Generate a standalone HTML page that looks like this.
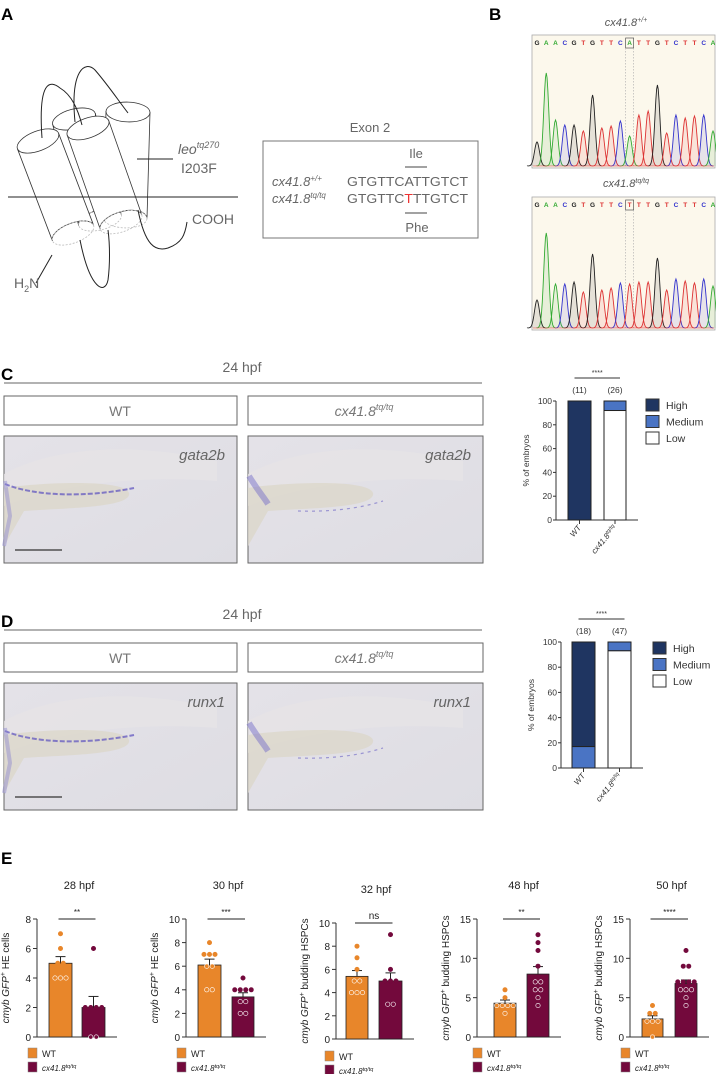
<!DOCTYPE html>
<html><head><meta charset="utf-8">
<style>
html,body{margin:0;padding:0;background:#fff;}
svg{display:block;font-family:"Liberation Sans",sans-serif;}
</style></head>
<body>
<svg id="s" width="716" height="1074" viewBox="0 0 716 1074" xmlns="http://www.w3.org/2000/svg">
<defs>
<linearGradient id="img" x1="0" y1="0" x2="1" y2="1">
<stop offset="0" stop-color="#e4e2e8"/><stop offset="1" stop-color="#dedde3"/>
</linearGradient>
</defs>
<g font-weight="bold" font-size="17" fill="#000">
<text x="1" y="20">A</text><text x="489" y="20">B</text>
<text x="1" y="380">C</text><text x="1" y="627">D</text><text x="1" y="864">E</text>
</g>
<g id="cyl" fill="none" stroke="#333" stroke-width="0.8"></g>
<g fill="none" stroke="#222" stroke-width="1">
<line x1="8" y1="197" x2="238" y2="197"/>
<line x1="137" y1="159" x2="173" y2="159"/>
<path d="M42 138 C38 80,50 80,60 88 C72 95,78 110,82 125"/>
<path d="M75 122 C70 70,85 60,95 70 C108 85,118 100,128 113"/>
<path d="M52 255 L36 283" />
<path d="M80 240 C90 290,105 295,108 280 C110 265,110 245,108 230"/>
<path d="M138 210 C145 245,155 252,168 248 C182 243,185 235,187 222"/>
</g>
<g fill="#666" font-size="14">
<text x="178" y="154" font-style="italic">leo<tspan font-size="9" dy="-6">tq270</tspan></text>
<text x="181" y="173">I203F</text>
<text x="192" y="224">COOH</text>
<text x="14" y="288">H<tspan font-size="9" dy="4">2</tspan><tspan dy="-4">N</tspan></text>
<text x="370" y="132" text-anchor="middle" font-size="13">Exon 2</text>
</g>
<rect x="263" y="141" width="215" height="97" fill="none" stroke="#777" stroke-width="1"/>
<g fill="#666" font-size="13">
<text x="416" y="158" text-anchor="middle">Ile</text>
<line x1="405" y1="167" x2="427" y2="167" stroke="#444"/>
<text x="272" y="186" font-style="italic">cx41.8<tspan font-size="8" dy="-5">+/+</tspan></text>
<text x="272" y="203" font-style="italic">cx41.8<tspan font-size="8" dy="-5">tq/tq</tspan></text>
<text x="347" y="186" textLength="121" lengthAdjust="spacingAndGlyphs">GTGTTCATTGTCT</text>
<text x="347" y="203" textLength="121" lengthAdjust="spacingAndGlyphs">GTGTTC<tspan fill="#e33">T</tspan>TTGTCT</text>
<line x1="405" y1="213" x2="427" y2="213" stroke="#444"/>
<text x="417" y="232" text-anchor="middle">Phe</text>
</g>
<g fill="#555" font-size="11" font-style="italic" text-anchor="middle">
<text x="626" y="26">cx41.8<tspan font-size="7" dy="-4">+/+</tspan></text>
<text x="626" y="187">cx41.8<tspan font-size="7" dy="-4">tq/tq</tspan></text>
</g>
<g id="chrom"></g>
<g id="cd"></g>
<g id="e"></g>
</svg>
<script>
function add(parent,html){document.getElementById(parent).insertAdjacentHTML('beforeend',html);}
function cyl(tx,ty,bx,by,r){
 const dx=bx-tx,dy=by-ty,L=Math.hypot(dx,dy),nx=-dy/L*r,ny=dx/L*r;
 const ang=Math.atan2(dy,dx)*180/Math.PI-90;
 let s=`<path fill="#fff" d="M${tx+nx} ${ty+ny} L${bx+nx} ${by+ny} A${r} ${r*0.45} ${ang} 0 1 ${bx-nx} ${by-ny} L${tx-nx} ${ty-ny} Z"/>`;
 s+=`<ellipse cx="${bx}" cy="${by}" rx="${r}" ry="${r*0.45}" transform="rotate(${ang} ${bx} ${by})" stroke="#bbb" stroke-dasharray="2 1.5" fill="none"/>`;
 s+=`<ellipse cx="${tx}" cy="${ty}" rx="${r}" ry="${r*0.45}" transform="rotate(${ang} ${tx} ${ty})" fill="#fff"/>`;
 return s;
}
add('cyl',cyl(74,119,100,220,22)+cyl(128,112,125,218,22)+cyl(38,141,73,233,22)+cyl(88,128,121,222,22));
const col={G:'#222',A:'#3a3',T:'#d33',C:'#33c'};
function chrom(y0,seq,h,mark){
 let s=`<rect x="532" y="${y0}" width="183" height="133" fill="#fcf8ec" stroke="#aaa" stroke-width="0.8"/>`;
 const n=seq.length, x0=537, dxs=(713-537)/(n-1), base=y0+131;
 for(let i=0;i<n;i++){
  s+=`<text x="${x0+i*dxs}" y="${y0+10}" font-size="6.5" font-weight="bold" fill="${col[seq[i]]}" text-anchor="middle">${seq[i]}</text>`;
 }
 s+=`<rect x="${x0+mark*dxs-4}" y="${y0+3}" width="8" height="10" fill="none" stroke="#555" stroke-width="0.7"/>`;
 s+=`<line x1="${x0+mark*dxs-4}" y1="${y0+13}" x2="${x0+mark*dxs-4}" y2="${base}" stroke="#aaa" stroke-dasharray="1.5 1.5" stroke-width="0.6"/>`;
 s+=`<line x1="${x0+mark*dxs+4}" y1="${y0+13}" x2="${x0+mark*dxs+4}" y2="${base}" stroke="#aaa" stroke-dasharray="1.5 1.5" stroke-width="0.6"/>`;
 for(let i=0;i<n;i++){
  const cx=x0+i*dxs, pk=h[i], w=3.2;
  let d=`M${cx-3*w} ${base}`;
  for(let t=-3;t<=3.01;t+=0.25){d+=` L${cx+t*w} ${base-pk*Math.exp(-t*t/1.2)}`;}
  s+=`<path d="${d}" fill="${col[seq[i]]}" fill-opacity="0.1" stroke="${col[seq[i]]}" stroke-width="0.9"/>`;
 }
 s+=`<line x1="533" y1="${base}" x2="714" y2="${base}" stroke="#d33" stroke-width="0.6"/>`;
 return s;
}
add('chrom',chrom(35,'GAACGTGTTCATTGTCTTCA',[24,93,46,41,41,35,71,38,40,45,30,51,55,81,33,51,48,50,51,35],10));
add('chrom',chrom(197,'GAACGTGTTCTTTGTCTTCA',[28,95,44,44,46,36,74,38,40,45,44,46,46,70,38,49,47,45,49,42],10));
function cd(y,label){
 let s=`<text x="242" y="${y+4}" text-anchor="middle" font-size="14" fill="#666">24 hpf</text>`;
 s+=`<line x1="4" y1="${y+15}" x2="482" y2="${y+15}" stroke="#666" stroke-width="1"/>`;
 s+=`<rect x="4" y="${y+28}" width="233" height="29" fill="#fff" stroke="#666"/>`;
 s+=`<rect x="248" y="${y+28}" width="235" height="29" fill="#fff" stroke="#666"/>`;
 s+=`<text x="120" y="${y+48}" text-anchor="middle" font-size="14" fill="#777">WT</text>`;
 s+=`<text x="364" y="${y+48}" text-anchor="middle" font-size="14" fill="#777" font-style="italic">cx41.8<tspan font-size="9" dy="-6">tq/tq</tspan></text>`;
 const iy=y+68, ih=127;
 [[4,233],[248,235]].forEach(([x,w],k)=>{
  s+=`<rect x="${x}" y="${iy}" width="${w}" height="${ih}" fill="url(#img)" stroke="#666"/>`;
  s+=`<path d="M${x} ${iy+38} C${x+60} ${iy+5},${x+150} ${iy+10},${x+w-20} ${iy+25} L${x+w-20} ${iy+45} C${x+150} ${iy+40},${x+60} ${iy+45},${x} ${iy+70} Z" fill="#e6e4e6" opacity="0.8"/>`;
  s+=`<path d="M${x} ${iy+52} C${x+30} ${iy+47},${x+120} ${iy+42},${x+125} ${iy+57} C${x+128} ${iy+72},${x+60} ${iy+72},${x+20} ${iy+75} L${x} ${iy+110} Z" fill="#dcd7cb" opacity="0.8"/>`;
  if(k==0) s+=`<path d="M${x+1} ${iy+48} C${x+30} ${iy+60},${x+80} ${iy+62},${x+130} ${iy+52}" stroke="#5a4fbf" stroke-width="2" fill="none" stroke-dasharray="5 2" opacity="0.7"/><path d="M${x+1} ${iy+45} L${x+6} ${iy+80} L${x} ${iy+110}" stroke="#8b86cf" stroke-width="4" fill="none" opacity="0.45"/>`;
  else s+=`<path d="M${x+1} ${iy+40} C${x+10} ${iy+55},${x+15} ${iy+60},${x+20} ${iy+68}" stroke="#6c63c8" stroke-width="6" fill="none" opacity="0.45"/><path d="M${x+50} ${iy+75} C${x+80} ${iy+76},${x+110} ${iy+73},${x+135} ${iy+65}" stroke="#6a62c4" stroke-width="1.2" fill="none" stroke-dasharray="3 4" opacity="0.6"/>`;
  s+=`<text x="${x+w-12}" y="${iy+24}" text-anchor="end" font-size="15" fill="#666" font-style="italic">${label}</text>`;
  if(k==0) s+=`<line x1="${x+11}" y1="${iy+114}" x2="${x+58}" y2="${iy+114}" stroke="#333" stroke-width="1.2"/>`;
 });
 return s;
}
add('cd',cd(368,'gata2b'));
add('cd',cd(615,'runx1'));
function stack(ax,y100,y0,b1,b2,n1,n2,wtMed,cxLow,lx,ly){
 const sc=(y0-y100)/100, Y=v=>y0-v*sc;
 let s=`<g font-size="8.5" fill="#333">`;
 s+=`<line x1="${ax}" y1="${y100}" x2="${ax}" y2="${y0}" stroke="#333"/>`;
 s+=`<line x1="${ax}" y1="${y0}" x2="${b2[1]+12}" y2="${y0}" stroke="#333"/>`;
 for(let v=0;v<=100;v+=20){s+=`<line x1="${ax-3}" y1="${Y(v)}" x2="${ax}" y2="${Y(v)}" stroke="#333"/><text x="${ax-4}" y="${Y(v)+3}" text-anchor="end">${v}</text>`;}
 s+=`<rect x="${b1[0]}" y="${Y(100)}" width="${b1[1]-b1[0]}" height="${(100-wtMed)*sc}" fill="#1f3561" stroke="#222"/>`;
 if(wtMed>0) s+=`<rect x="${b1[0]}" y="${Y(wtMed)}" width="${b1[1]-b1[0]}" height="${wtMed*sc}" fill="#4a74c4" stroke="#222"/>`;
 s+=`<rect x="${b2[0]}" y="${Y(100)}" width="${b2[1]-b2[0]}" height="${(100-cxLow)*sc}" fill="#4a74c4" stroke="#222"/>`;
 s+=`<rect x="${b2[0]}" y="${Y(cxLow)}" width="${b2[1]-b2[0]}" height="${cxLow*sc}" fill="#fff" stroke="#222"/>`;
 const m1=(b1[0]+b1[1])/2,m2=(b2[0]+b2[1])/2;
 s+=`<line x1="${m1}" y1="${y0}" x2="${m1}" y2="${y0+4}" stroke="#333"/><line x1="${m2}" y1="${y0}" x2="${m2}" y2="${y0+4}" stroke="#333"/>`;
 s+=`<text x="${m1}" y="${y100-8}" text-anchor="middle">(${n1})</text><text x="${m2}" y="${y100-8}" text-anchor="middle">(${n2})</text>`;
 s+=`<line x1="${m1-5}" y1="${y100-23}" x2="${m2+5}" y2="${y100-23}" stroke="#333"/>`;
 s+=`<text x="${(m1+m2)/2}" y="${y100-26}" text-anchor="middle" font-size="7">****</text>`;
 s+=`<text transform="translate(${ax-27} ${(y0+y100)/2}) rotate(-90)" text-anchor="middle" font-size="8.5">% of embryos</text>`;
 s+=`<text transform="translate(${m1+2} ${y0+8}) rotate(-50)" text-anchor="end" font-style="italic" font-size="8">WT</text>`;
 s+=`<text transform="translate(${m2+2} ${y0+8}) rotate(-50)" text-anchor="end" font-style="italic" font-size="8">cx41.8<tspan font-size="5.5" dy="-3">tq/tq</tspan></text>`;
 [['#1f3561','High'],['#4a74c4','Medium'],['#fff','Low']].forEach((c,i)=>{
  s+=`<rect x="${lx}" y="${ly+i*16.5}" width="13" height="12" fill="${c[0]}" stroke="#333"/><text x="${lx+20}" y="${ly+i*16.5+10}" font-size="10.5">${c[1]}</text>`;
 });
 return s+'</g>';
}
add('cd',stack(556,401,520,[568,591],[604,626],11,26,0,92,646,399));
add('cd',stack(561,642,768,[572,595],[608,631],18,47,17,93,653,642));
const OR='#e8862a',MA='#73093c';
function ech(c){
 const {ax,yT,yB,max,step,b1,b2,m1,e1,m2,e2,d1,d2,title,sig,lab,lx,ly}=c;
 const Y=v=>yB-(yB-yT)*v/max;
 let s=`<g font-size="10" fill="#222">`;
 s+=`<text x="${(b1[0]+b2[1])/2+2}" y="${yT-30}" text-anchor="middle" font-size="11">${title}</text>`;
 s+=`<line x1="${ax}" y1="${yT}" x2="${ax}" y2="${yB}" stroke="#333"/><line x1="${ax}" y1="${yB}" x2="${b2[1]+12}" y2="${yB}" stroke="#333"/>`;
 for(let v=0;v<=max;v+=step){s+=`<line x1="${ax-4}" y1="${Y(v)}" x2="${ax}" y2="${Y(v)}" stroke="#333"/><text x="${ax-6}" y="${Y(v)+4}" text-anchor="end">${v}</text>`;}
 [[b1,m1,e1,OR,d1],[b2,m2,e2,MA,d2]].forEach(([b,m,e,color,d])=>{
  const cx=(b[0]+b[1])/2;
  s+=`<line x1="${cx}" y1="${Y(m)}" x2="${cx}" y2="${Y(m+e)}" stroke="#222"/><line x1="${cx-5}" y1="${Y(m+e)}" x2="${cx+5}" y2="${Y(m+e)}" stroke="#222"/>`;
  s+=`<rect x="${b[0]}" y="${Y(m)}" width="${b[1]-b[0]}" height="${yB-Y(m)}" fill="${color}" stroke="#222" stroke-width="0.8"/>`;
  const cnt={};d.forEach(v=>cnt[v]=(cnt[v]||0)+1);
  Object.keys(cnt).forEach(k=>{const n=cnt[k];for(let i=0;i<n;i++){const x=cx+(i-(n-1)/2)*5.5;const v=+k;const inside=v<m;
   s+=`<circle cx="${x}" cy="${Y(v)}" r="2.2" fill="${color}" stroke="${inside?'#fff':color}" stroke-width="0.6"/>`;}});
 });
 s+=`<line x1="${(b1[0]+b1[1])/2-2}" y1="${yT}" x2="${(b2[0]+b2[1])/2+2}" y2="${yT}" stroke="#222"/>`;
 s+=`<text x="${(b1[0]+b2[1])/2}" y="${yT-4}" text-anchor="middle" font-size="${sig=='ns'?10:8}">${sig}</text>`;
 s+=`<text transform="translate(${ax-28} ${(yT+yB)/2}) rotate(-90)" text-anchor="middle" font-size="10"><tspan font-style="italic">cmyb GFP</tspan><tspan font-size="7" dy="-4">+</tspan><tspan dy="4"> ${lab}</tspan></text>`;
 s+=`<rect x="${lx}" y="${ly}" width="9" height="10" fill="${OR}" stroke="#888" stroke-width="0.5"/><text x="${lx+14}" y="${ly+9}" font-size="9">WT</text>`;
 s+=`<rect x="${lx}" y="${ly+14}" width="9" height="10" fill="${MA}" stroke="#888" stroke-width="0.5"/><text x="${lx+14}" y="${ly+23}" font-size="8" font-style="italic">cx41.8<tspan font-size="5.5" dy="-3">tq/tq</tspan></text>`;
 return s+'</g>';
}
const T=919,B=1037;
add('e',ech({ax:37,yT:T,yB:B,max:8,step:2,b1:[49,72],b2:[82,105],m1:5,e1:0.45,m2:2,e2:0.75,d1:[7,6,5,5,4,4,4],d2:[6,2,2,2,2,0,0],title:'28 hpf',sig:'**',lab:'HE cells',lx:28,ly:1048}));
add('e',ech({ax:186,yT:T,yB:B,max:10,step:2,b1:[198,221],b2:[232,254],m1:6.1,e1:0.5,m2:3.4,e2:0.35,d1:[8,7,7,7,6,6,4,4],d2:[5,4,4,4,4,3,3,2,2],title:'30 hpf',sig:'***',lab:'HE cells',lx:177,ly:1048}));
add('e',ech({ax:336,yT:923,yB:1039,max:10,step:2,b1:[346,368],b2:[379,402],m1:5.4,e1:0.5,m2:5.0,e2:0.7,d1:[8,7,6,5,5,4,4,4],d2:[9,6,5,5,5,3,3],title:'32 hpf',sig:'ns',lab:'budding HSPCs',lx:325,ly:1051}));
add('e',ech({ax:477,yT:T,yB:B,max:15,step:5,b1:[494,516],b2:[527,549],m1:4.3,e1:0.4,m2:8,e2:0.95,d1:[6,5,4,4,4,4,3],d2:[13,12,11,9,7,7,6,6,5,4],title:'48 hpf',sig:'**',lab:'budding HSPCs',lx:473,ly:1048}));
add('e',ech({ax:630,yT:T,yB:B,max:15,step:5,b1:[642,663],b2:[675,697],m1:2.3,e1:0.4,m2:6.8,e2:0.45,d1:[4,3,3,2,2,2,0],d2:[11,9,9,7,7,7,7,6,6,6,5,4],title:'50 hpf',sig:'****',lab:'budding HSPCs',lx:621,ly:1048}));
</script>
</body></html>
